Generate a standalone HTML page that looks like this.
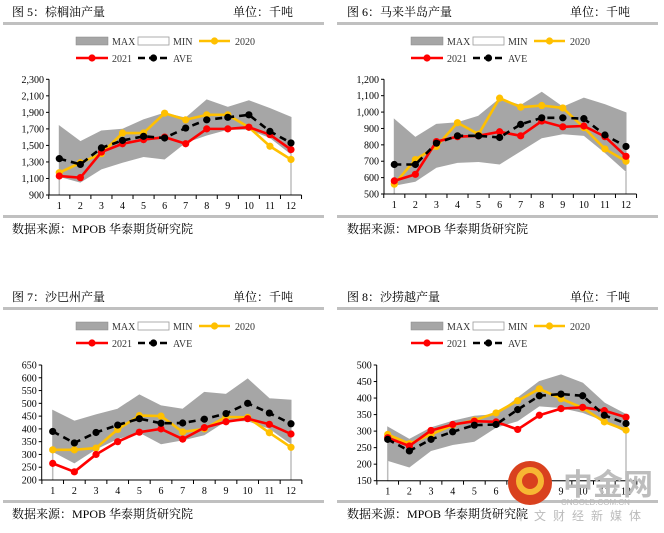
<!DOCTYPE html>
<html><head><meta charset="utf-8">
<style>
html,body{margin:0;padding:0;background:#fff;}
svg{display:block;}
.t{font-family:"Liberation Serif","Noto Serif CJK SC",serif;}
</style></head>
<body>
<svg id="root" width="664" height="533" viewBox="0 0 664 533" xmlns="http://www.w3.org/2000/svg"></svg>
<script>
// ---- Chart data ----
const months = ["1","2","3","4","5","6","7","8","9","10","11","12"];

const palmMax  = [1735,1545,1675,1695,1810,1890,1830,2050,1960,2040,1945,1840];
const palmMin  = [1120,1050,1210,1290,1360,1330,1530,1620,1690,1690,1590,1390];
const palm2020 = [1170,1290,1400,1650,1650,1890,1810,1870,1870,1720,1490,1330];
const palm2021 = [1130,1110,1420,1520,1570,1600,1520,1700,1700,1720,1630,1450];
const palmAve  = [1340,1270,1470,1560,1610,1590,1710,1810,1840,1870,1670,1530];
const palmTicks = ["900","1,100","1,300","1,500","1,700","1,900","2,100","2,300"];

const penMax  = [955,845,925,935,975,1080,1040,1120,1030,1085,1045,995];
const penMin  = [550,575,660,690,695,680,760,840,865,855,750,635];
const pen2020 = [560,710,790,935,865,1085,1030,1040,1025,905,775,700];
const pen2021 = [580,620,820,850,855,880,855,945,910,915,850,730];
const penAve  = [680,680,810,855,855,845,925,965,965,960,860,790];
const penTicks = ["500","600","700","800","900","1,000","1,100","1,200"];

const sabMax  = [472,430,455,477,533,490,477,543,535,595,518,512];
const sabMin  = [310,265,320,360,385,340,355,375,430,430,400,340];
const sab2020 = [318,318,325,398,452,450,388,400,447,445,385,328];
const sab2021 = [265,232,300,350,387,400,360,405,428,440,418,380];
const sabAve  = [390,345,386,415,440,422,423,438,460,500,462,420];
const sabTicks = ["200","250","300","350","400","450","500","550","600","650"];

const sarMax  = [312,275,310,330,345,350,400,450,470,445,385,350];
const sarMin  = [210,190,240,258,268,310,330,375,370,355,330,295];
const sar2020 = [290,262,290,318,333,355,392,428,398,370,328,303];
const sar2021 = [280,255,302,320,330,328,305,348,368,372,362,342];
const sarAve  = [275,240,275,298,318,320,365,407,412,407,348,323];
const sarTicks = ["150","200","250","300","350","400","450","500"];

const NS="http://www.w3.org/2000/svg";
const root=document.getElementById('root');
function mk(tag,attrs,parent){const e=document.createElementNS(NS,tag);for(const k in attrs)e.setAttribute(k,attrs[k]);(parent||root).appendChild(e);return e;}
function txt(s,attrs,parent){const e=mk('text',attrs,parent);e.textContent=s;return e;}

function panel(cfg){
  const g=mk('g',{});
  
  
  // header
  const t=txt(cfg.title,{x:cfg.px,y:16,'font-size':12,class:'t',fill:'#000'},g);
  
  
  t.setAttribute('y',cfg.hy);
  const u=txt('单位：千吨',{x:cfg.ux,y:cfg.hy,'font-size':12,class:'t',fill:'#000'},g);
  
  
  const hl=mk('rect',{x:cfg.lx,y:cfg.hy+6,width:321,height:3,fill:'#c0c0c0'},g);
  
  
  const fl=mk('rect',{x:cfg.lx,y:cfg.fy-12,width:321,height:3,fill:'#c0c0c0'},g);
  
  
  const ft=txt('数据来源：MPOB  华泰期货研究院',{x:cfg.px,y:cfg.fy+6,'font-size':12,class:'t',fill:'#000','xml:space':'preserve'},g);
  
  

  const lo=cfg.lo, hi=cfg.hi;
  const y=v=>cfg.yb-(v-lo)/(hi-lo)*(cfg.yb-cfg.yt);
  const x=i=>cfg.x1+i*(cfg.x12-cfg.x1)/11;
  const step=(cfg.x12-cfg.x1)/11;
  // band max
  let d='M'+x(0)+','+y(lo);
  cfg.max.forEach((v,i)=>d+=' L'+x(i)+','+y(v));
  d+=' L'+x(11)+','+y(lo)+' Z';
  const bm=mk('path',{d:d,fill:'#a6a6a6',stroke:'#a6a6a6','stroke-width':1},g);
  
  
  let d2='M'+x(0)+','+y(lo);
  cfg.min.forEach((v,i)=>d2+=' L'+x(i)+','+y(v));
  d2+=' L'+x(11)+','+y(lo)+' Z';
  const bn=mk('path',{d:d2,fill:'#fff',stroke:'none'},g);
  
  
  mk('line',{x1:x(0),y1:y(cfg.min[0]),x2:x(0),y2:y(lo),stroke:'#bdbdbd','stroke-width':1.5},g);
  mk('line',{x1:x(11),y1:y(cfg.min[11]),x2:x(11),y2:y(lo),stroke:'#bdbdbd','stroke-width':1.5},g);
  // axes
  const ax=mk('g',{},g);
  
  
  mk('line',{x1:cfg.ax,y1:cfg.yt,x2:cfg.ax,y2:cfg.yb,stroke:'#000','stroke-width':1},ax);
  cfg.ticks.forEach((s,i)=>{
    const v=lo+i*(hi-lo)/(cfg.ticks.length-1);
    mk('line',{x1:cfg.ax-3,y1:y(v),x2:cfg.ax,y2:y(v),stroke:'#000','stroke-width':1},ax);
    const tl=txt(s,{x:cfg.ax-5,y:y(v)+3.5,'font-size':10,class:'t','text-anchor':'end',fill:'#000'},ax);
    
    
  });
  const xa=mk('g',{},g);
  
  
  mk('line',{x1:cfg.ax,y1:cfg.yb,x2:x(11)+step/2,y2:cfg.yb,stroke:'#000','stroke-width':1},xa);
  for(let i=0;i<=12;i++){const xx=x(i)-step/2;mk('line',{x1:xx,y1:cfg.yb,x2:xx,y2:cfg.yb+4,stroke:'#000','stroke-width':1},xa);}
  months.forEach((m,i)=>{
    const tl=txt(m,{x:x(i),y:cfg.yb+14,'font-size':10,class:'t','text-anchor':'middle',fill:'#000'},xa);
    
    
  });
  // series
  function series(vals,color,dash,name){
    const s=mk('g',{},g);
    
    
    const pts=vals.map((v,i)=>x(i)+','+y(v)).join(' ');
    const a={points:pts,fill:'none',stroke:color,'stroke-width':2.6,'stroke-linejoin':'round'};
    if(dash)a['stroke-dasharray']=dash;
    mk('polyline',a,s);
    vals.forEach((v,i)=>{const c=mk('circle',{cx:x(i),cy:y(v),r:3.6,fill:color},s);
      
      });
  }
  series(cfg.s2020,'#ffc000',null,'series-2020');
  series(cfg.s2021,'#ff0000',null,'series-2021');
  series(cfg.ave,'#000','7,5','series-ave');
  // legend
  const L=mk('g',{},g);
  
  
  const lx=cfg.legx, r1=cfg.legy, r2=cfg.legy+17;
  mk('rect',{x:lx,y:r1-4,width:32,height:8,fill:'#a6a6a6',stroke:'#888','stroke-width':0.5},L);
  txt('MAX',{x:lx+36,y:r1+4,'font-size':10,class:'t',fill:'#333'},L);
  mk('rect',{x:lx+62,y:r1-4,width:31,height:8,fill:'#fff',stroke:'#999','stroke-width':0.8},L);
  txt('MIN',{x:lx+97,y:r1+4,'font-size':10,class:'t',fill:'#333'},L);
  mk('line',{x1:lx+123,y1:r1,x2:lx+154,y2:r1,stroke:'#ffc000','stroke-width':2.6},L);
  mk('circle',{cx:lx+138.5,cy:r1,r:3.6,fill:'#ffc000'},L);
  txt('2020',{x:lx+159,y:r1+4,'font-size':10,class:'t',fill:'#333'},L);
  mk('line',{x1:lx,y1:r2,x2:lx+32,y2:r2,stroke:'#ff0000','stroke-width':2.6},L);
  mk('circle',{cx:lx+16,cy:r2,r:3.6,fill:'#ff0000'},L);
  txt('2021',{x:lx+36,y:r2+4,'font-size':10,class:'t',fill:'#333'},L);
  mk('line',{x1:lx+62,y1:r2,x2:lx+93,y2:r2,stroke:'#000','stroke-width':2.6,'stroke-dasharray':'7,4'},L);
  mk('circle',{cx:lx+77.5,cy:r2,r:3.6,fill:'#000'},L);
  txt('AVE',{x:lx+97,y:r2+4,'font-size':10,class:'t',fill:'#333'},L);
}

panel({name:'palm-oil-chart',title:'图 5：棕榈油产量',px:12,ux:233,lx:3,hy:16,fy:227,
  lo:900,hi:2300,ticks:palmTicks,yt:79.3,yb:195,x1:59.3,x12:291,ax:49,legx:76,legy:41,
  max:palmMax,min:palmMin,s2020:palm2020,s2021:palm2021,ave:palmAve});
panel({name:'peninsular-chart',title:'图 6：马来半岛产量',px:347,ux:570,lx:337,hy:16,fy:227,
  lo:500,hi:1200,ticks:penTicks,yt:79.3,yb:194,x1:394.3,x12:626,ax:384,legx:411,legy:41,
  max:penMax,min:penMin,s2020:pen2020,s2021:pen2021,ave:penAve});
panel({name:'sabah-chart',title:'图 7：沙巴州产量',px:12,ux:233,lx:3,hy:301,fy:512,
  lo:200,hi:650,ticks:sabTicks,yt:365,yb:480,x1:52.7,x12:291,ax:41.7,legx:76,legy:326,
  max:sabMax,min:sabMin,s2020:sab2020,s2021:sab2021,ave:sabAve});
panel({name:'sarawak-chart',title:'图 8：沙捞越产量',px:347,ux:570,lx:337,hy:301,fy:512,
  lo:150,hi:500,ticks:sarTicks,yt:365,yb:480.7,x1:387.7,x12:626,ax:376.7,legx:411,legy:326,
  max:sarMax,min:sarMin,s2020:sar2020,s2021:sar2021,ave:sarAve});

// watermark logo
const wm=mk('g',{});


mk('circle',{cx:530,cy:483,r:22,fill:'#d9411e'},wm);
mk('circle',{cx:530,cy:481,r:11,fill:'none',stroke:'#f7b733','stroke-width':6},wm);
txt('中金网',{x:563,y:495,'font-size':30,'font-family':'"Noto Sans CJK SC",sans-serif','font-weight':'bold',fill:'#bdbdbd'},wm);
txt('CNGOLD.COM.CN',{x:561,y:505,'font-size':8,'font-family':'"Liberation Sans",sans-serif',fill:'#bbb'},wm);
txt('中文财经新媒体',{x:515,y:520,'font-size':12,'font-family':'"Noto Sans CJK SC",sans-serif',fill:'#bbb','letter-spacing':'7'},wm);
</script>
</body></html>
